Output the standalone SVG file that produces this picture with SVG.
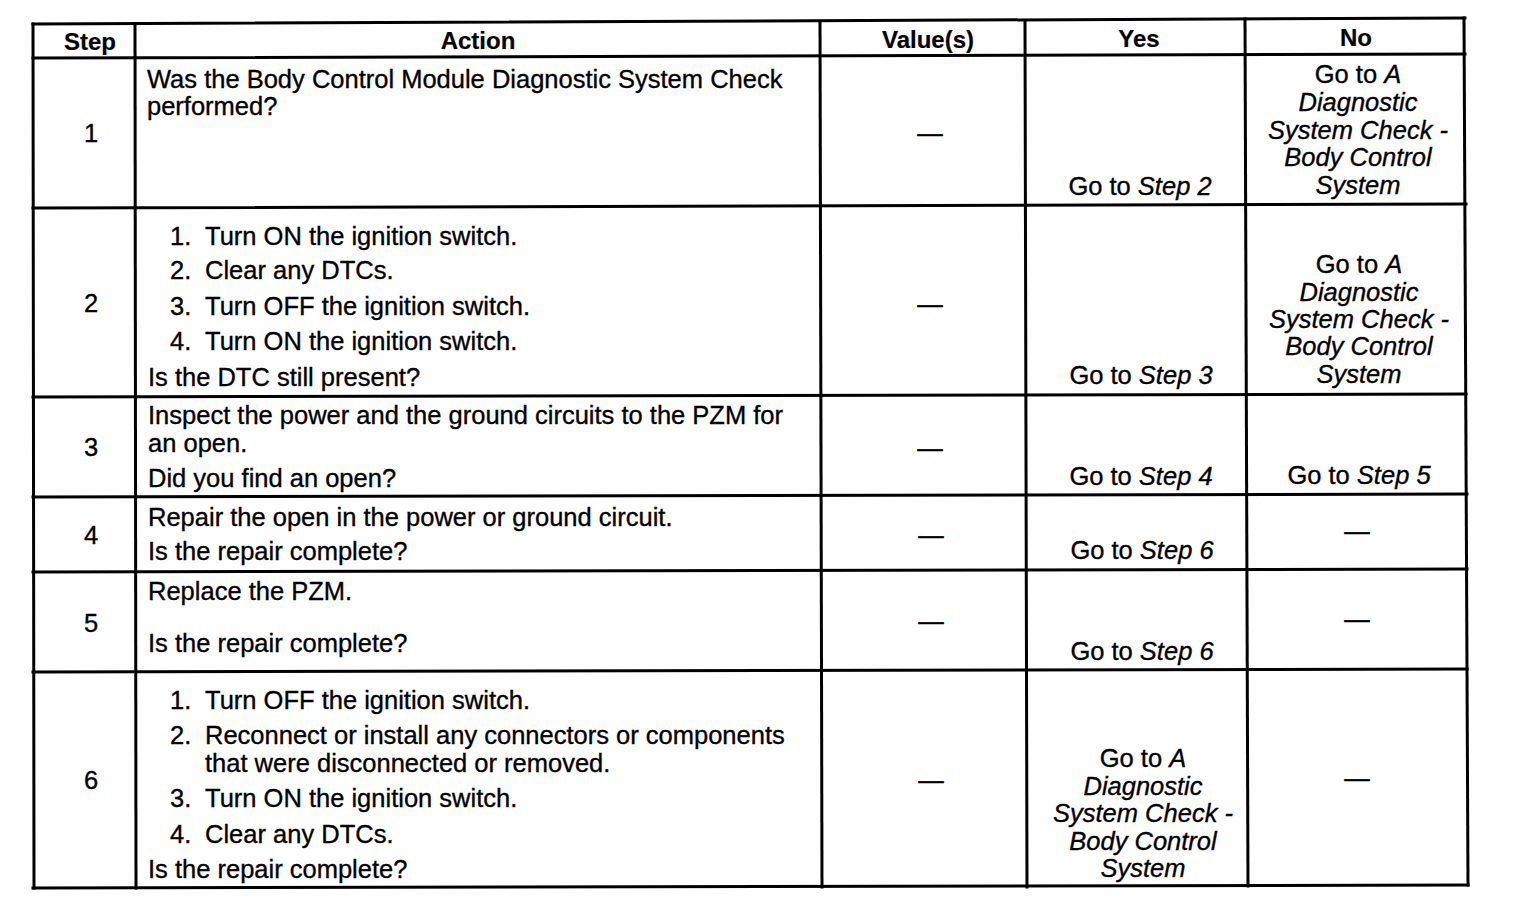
<svg xmlns="http://www.w3.org/2000/svg" width="1536" height="918" viewBox="0 0 1536 918">
<style>
  .grid line { stroke:#000; stroke-width:3; stroke-linecap:square; }
  text { font-family:"Liberation Sans", Arial, sans-serif; font-size:25.5px; fill:#000; stroke:#000; stroke-width:0.35; }
  .hd { font-weight:bold; font-size:24px; text-anchor:middle; stroke-width:0.2; }
  .c { text-anchor:middle; }
  .i { font-style:italic; }
</style>
<rect width="1536" height="918" fill="#fff"/>
<g id="grid" class="grid">
  <line x1="33" y1="24" x2="1465" y2="18"/>
  <line x1="33" y1="58" x2="1465" y2="54"/>
  <line x1="33" y1="208" x2="1466" y2="204"/>
  <line x1="33" y1="397" x2="1466" y2="394"/>
  <line x1="33" y1="497" x2="1467" y2="494"/>
  <line x1="33" y1="572" x2="1467" y2="569"/>
  <line x1="33" y1="672" x2="1467" y2="669"/>
  <line x1="33" y1="888" x2="1468" y2="885"/>
  <line x1="33" y1="24" x2="34" y2="888"/>
  <line x1="135" y1="24" x2="136" y2="888"/>
  <line x1="820" y1="22" x2="822" y2="887"/>
  <line x1="1025" y1="21" x2="1027" y2="887"/>
  <line x1="1245" y1="19" x2="1248" y2="886"/>
  <line x1="1464" y1="18" x2="1468" y2="885"/>
</g>
<g id="header">
  <text class="hd" x="90" y="50">Step</text>
  <text class="hd" x="478" y="49">Action</text>
  <text class="hd" x="928" y="48">Value(s)</text>
  <text class="hd" x="1139" y="47">Yes</text>
  <text class="hd" x="1356" y="46">No</text>
</g>
<g id="step1">
  <text class="c" x="91" y="142">1</text>
  <text x="147" y="88">Was the Body Control Module Diagnostic System Check</text>
  <text x="147" y="115">performed?</text>
  <text class="c" x="930" y="142">—</text>
  <text class="c" x="1140" y="195">Go to <tspan class="i">Step 2</tspan></text>
  <text class="c" x="1358" y="83">Go to <tspan class="i">A</tspan></text>
  <text class="c i" x="1358" y="111">Diagnostic</text>
  <text class="c i" x="1358" y="139">System Check -</text>
  <text class="c i" x="1358" y="166">Body Control</text>
  <text class="c i" x="1358" y="194">System</text>
</g>
<g id="step2">
  <text class="c" x="91" y="312">2</text>
  <text x="170" y="245">1.</text><text x="205" y="245">Turn ON the ignition switch.</text>
  <text x="170" y="279">2.</text><text x="205" y="279">Clear any DTCs.</text>
  <text x="170" y="315">3.</text><text x="205" y="315">Turn OFF the ignition switch.</text>
  <text x="170" y="350">4.</text><text x="205" y="350">Turn ON the ignition switch.</text>
  <text x="148" y="386">Is the DTC still present?</text>
  <text class="c" x="930" y="313">—</text>
  <text class="c" x="1141" y="384">Go to <tspan class="i">Step 3</tspan></text>
  <text class="c" x="1359" y="273">Go to <tspan class="i">A</tspan></text>
  <text class="c i" x="1359" y="301">Diagnostic</text>
  <text class="c i" x="1359" y="328">System Check -</text>
  <text class="c i" x="1359" y="355">Body Control</text>
  <text class="c i" x="1359" y="383">System</text>
</g>
<g id="step3">
  <text class="c" x="91" y="456">3</text>
  <text x="148" y="424">Inspect the power and the ground circuits to the PZM for</text>
  <text x="148" y="452">an open.</text>
  <text x="148" y="487">Did you find an open?</text>
  <text class="c" x="930" y="457">—</text>
  <text class="c" x="1141" y="485">Go to <tspan class="i">Step 4</tspan></text>
  <text class="c" x="1359" y="484">Go to <tspan class="i">Step 5</tspan></text>
</g>
<g id="step4">
  <text class="c" x="91" y="544">4</text>
  <text x="148" y="526">Repair the open in the power or ground circuit.</text>
  <text x="148" y="560">Is the repair complete?</text>
  <text class="c" x="931" y="544">—</text>
  <text class="c" x="1142" y="559">Go to <tspan class="i">Step 6</tspan></text>
  <text class="c" x="1357" y="540">—</text>
</g>
<g id="step5">
  <text class="c" x="91" y="632">5</text>
  <text x="148" y="600">Replace the PZM.</text>
  <text x="148" y="652">Is the repair complete?</text>
  <text class="c" x="931" y="630">—</text>
  <text class="c" x="1142" y="660">Go to <tspan class="i">Step 6</tspan></text>
  <text class="c" x="1357" y="628">—</text>
</g>
<g id="step6">
  <text class="c" x="91" y="789">6</text>
  <text x="170" y="709">1.</text><text x="205" y="709">Turn OFF the ignition switch.</text>
  <text x="170" y="744">2.</text><text x="205" y="744">Reconnect or install any connectors or components</text>
  <text x="205" y="772">that were disconnected or removed.</text>
  <text x="170" y="807">3.</text><text x="205" y="807">Turn ON the ignition switch.</text>
  <text x="170" y="843">4.</text><text x="205" y="843">Clear any DTCs.</text>
  <text x="148" y="878">Is the repair complete?</text>
  <text class="c" x="931" y="789">—</text>
  <text class="c" x="1143" y="767">Go to <tspan class="i">A</tspan></text>
  <text class="c i" x="1143" y="795">Diagnostic</text>
  <text class="c i" x="1143" y="822">System Check -</text>
  <text class="c i" x="1143" y="850">Body Control</text>
  <text class="c i" x="1143" y="877">System</text>
  <text class="c" x="1357" y="787">—</text>
</g>
</svg>
